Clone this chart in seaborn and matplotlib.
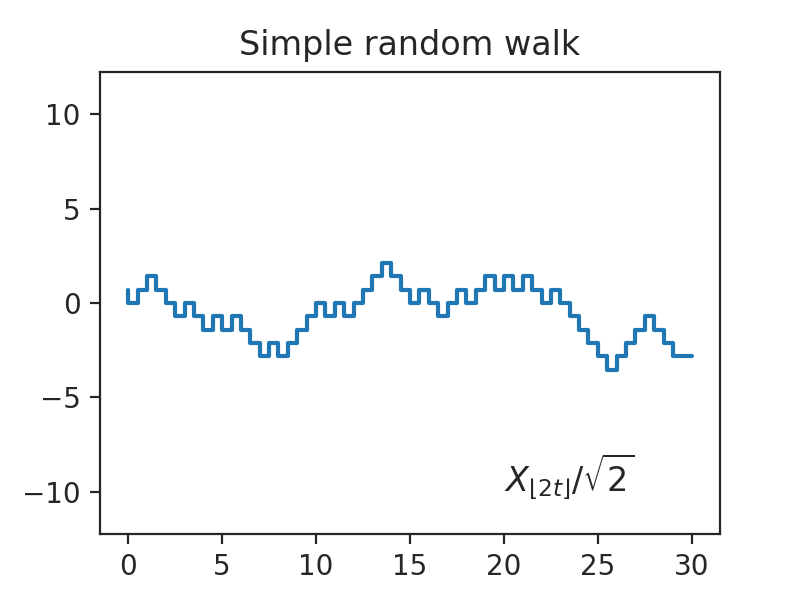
import numpy as np
import matplotlib
matplotlib.use("Agg")
import matplotlib.pyplot as plt
import seaborn as sns

# walk positions X_k, k = 0..60, plotted at t = k/2
walk = [1,
        0, 1, 2, 1, 0, -1, 0, -1, -2, -1, -2, -1, -2, -3, -4, -3, -4, -3, -2, -1,
        0, -1, 0, -1, 0, 1, 2, 3, 2, 1,
        0, 1, 0, -1, 0, 1, 0, 1, 2, 1, 2, 1, 2, 1, 0, 1, 0, -1, -2, -3,
        -4, -5, -4, -3, -2, -1, -2, -3, -4, -4]
t = np.arange(len(walk)) / 2
y = np.array(walk) / np.sqrt(2)

sns.set_style("ticks")
fig, ax = plt.subplots(figsize=(4, 3), dpi=200)
ax.step(t, y, where="pre", color=sns.color_palette()[0])
ax.set_ylim(-12.25, 12.25)
ax.set_title("Simple random walk")
ax.text(20, -10, r"$X_{\lfloor 2t \rfloor}/\sqrt{2}$", fontsize=12)
plt.tight_layout()
fig.subplots_adjust(left=0.125, right=0.9, top=0.88, bottom=0.11)
plt.savefig("out.png")
